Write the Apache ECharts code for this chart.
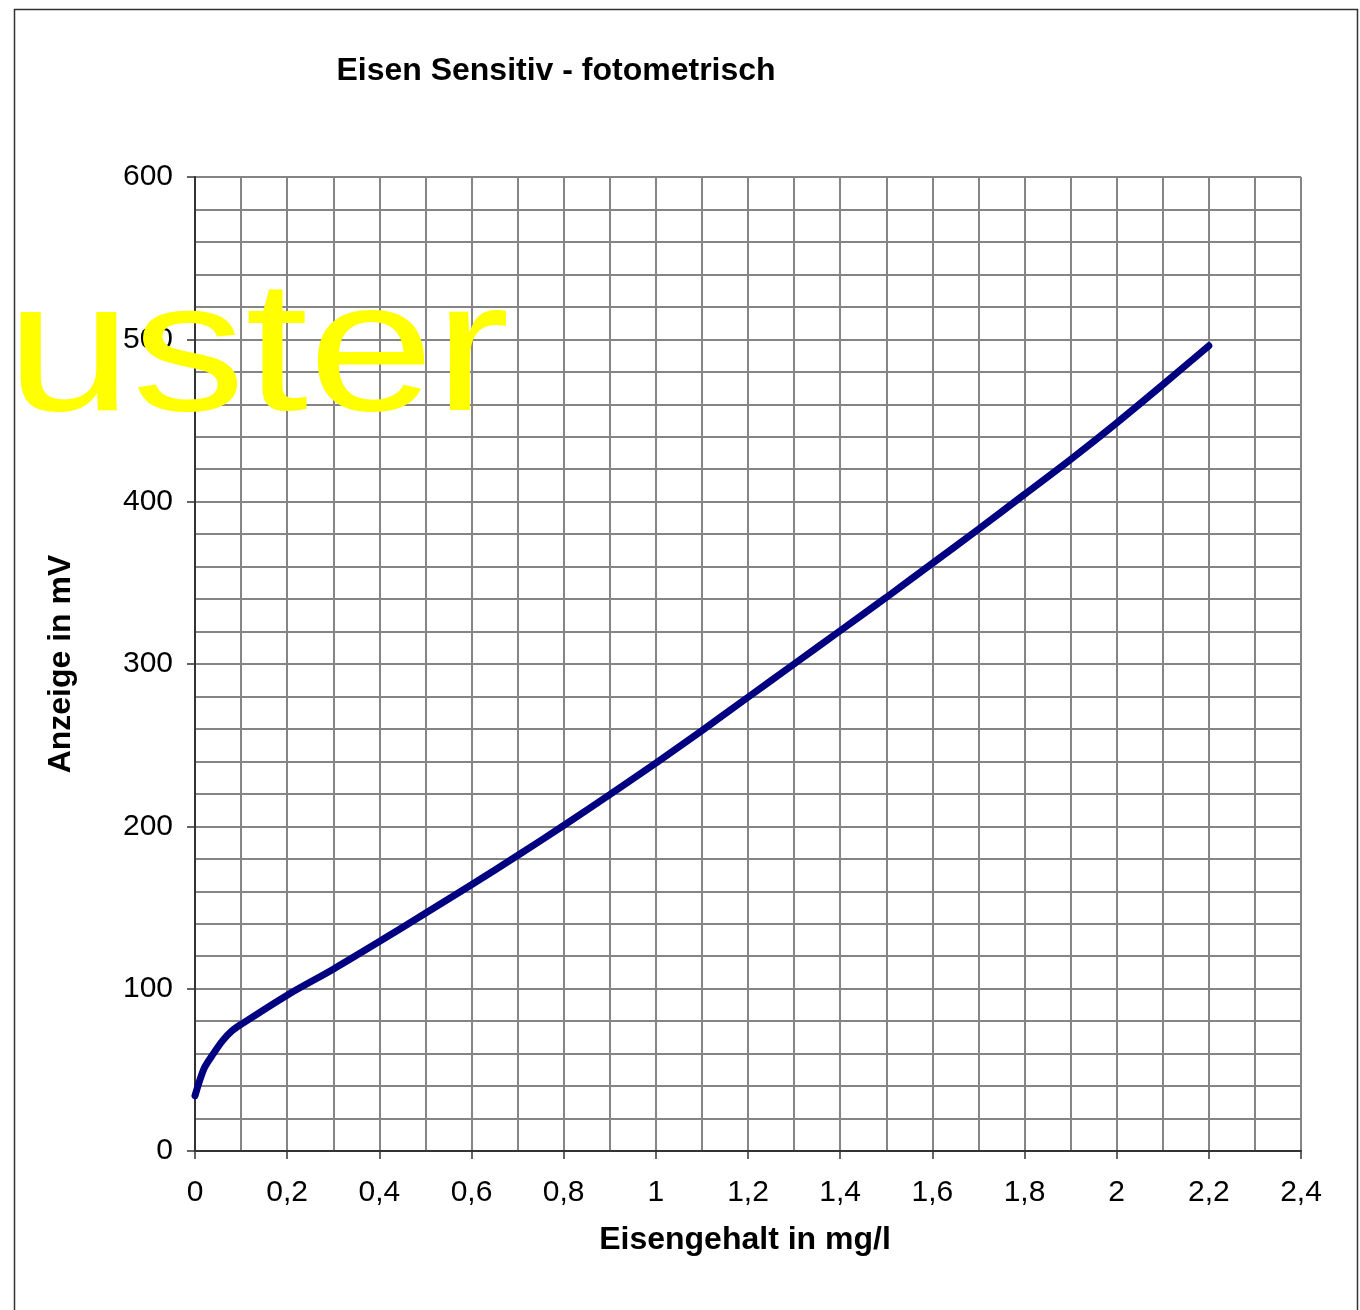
<!DOCTYPE html>
<html>
<head>
<meta charset="utf-8">
<script src="https://cdn.jsdelivr.net/npm/echarts@6/dist/echarts.min.js"></script>
<style>
html,body{margin:0;padding:0;background:#fff;}
#chart{width:1360px;height:1310px;}
</style>
</head>
<body>
<div id="chart"></div>
<script>
// Data
var xValues = [0, 0.02, 0.04, 0.06, 0.08, 0.1, 0.2, 0.3, 0.4, 0.5, 0.6, 0.7, 0.8, 0.9, 1.0, 1.1, 1.2, 1.3, 1.4, 1.5, 1.6, 1.7, 1.8, 1.9, 2.0, 2.1, 2.2];
var yValues = [34, 51, 60, 68, 74, 78, 96, 112, 129, 146.5, 164, 182, 200.5, 219.5, 239, 259, 279.5, 300, 320.5, 341, 362, 383, 404.5, 426, 448.5, 472, 496];
var titleText = 'Eisen Sensitiv - fotometrisch';
var xAxisName = 'Eisengehalt in mg/l';
var yAxisName = 'Anzeige in mV';
var watermark = 'uster';

var seriesData = xValues.map(function (x, i) { return [x, yValues[i]]; });
var FONT = '"Liberation Sans", Arial, sans-serif';

var chart = echarts.init(document.getElementById('chart'), null, {renderer: 'canvas'});
chart.setOption({
  animation: false,
  backgroundColor: '#ffffff',
  title: {
    text: titleText,
    left: 551, top: 50, textAlign: 'center',
    textStyle: {fontFamily: FONT, fontSize: 32, fontWeight: 'bold', color: '#000'}
  },
  grid: {left: 195, right: 59, top: 177, bottom: 159, containLabel: false},
  xAxis: {
    type: 'value', min: 0, max: 2.4, interval: 0.2,
    name: xAxisName, nameLocation: 'middle', nameGap: 73,
    nameTextStyle: {fontFamily: FONT, fontSize: 32, fontWeight: 'bold', color: '#000', padding: [0, 6, 0, 0]},
    axisLine: {show: true, lineStyle: {color: '#333', width: 2}},
    axisTick: {show: true, length: 8, lineStyle: {color: '#333', width: 1.5}},
    axisLabel: {
      margin: 27, fontFamily: FONT, fontSize: 30, color: '#000',
      formatter: function (v) { return String(Math.round(v * 10) / 10).replace('.', ','); }
    },
    splitLine: {show: true, lineStyle: {color: '#858585', width: 2}},
    minorTick: {show: false, splitNumber: 2},
    minorSplitLine: {show: true, lineStyle: {color: '#858585', width: 2}}
  },
  yAxis: {
    type: 'value', min: 0, max: 600, interval: 100,
    name: yAxisName, nameLocation: 'middle', nameGap: 118, nameRotate: 90,
    nameTextStyle: {fontFamily: FONT, fontSize: 32, fontWeight: 'bold', color: '#000'},
    axisLine: {show: true, lineStyle: {color: '#333', width: 2}},
    axisTick: {show: true, length: 8, lineStyle: {color: '#333', width: 1.5}},
    axisLabel: {margin: 22, fontFamily: FONT, fontSize: 30, color: '#000'},
    splitLine: {show: true, lineStyle: {color: '#858585', width: 2}},
    minorTick: {show: false, splitNumber: 5},
    minorSplitLine: {show: true, lineStyle: {color: '#858585', width: 2}}
  },
  series: [{
    type: 'line',
    data: seriesData,
    smooth: 0.3,
    showSymbol: false,
    lineStyle: {color: '#000080', width: 7, cap: 'round'},
    z: 5
  }],
  graphic: [
    {
      type: 'rect', z: 0, silent: true,
      shape: {x: 14.5, y: 9.5, width: 1343, height: 1320},
      style: {fill: 'none', stroke: '#333', lineWidth: 1.5}
    },
    {
      type: 'text', z: 100, silent: true,
      x: 6, y: 452, scaleX: 1.18, scaleY: 0.97,
      style: {
        text: watermark, fill: '#ffff00',
        font: 'normal 192px ' + FONT,
        verticalAlign: 'bottom', align: 'left'
      }
    }
  ]
});
</script>
</body>
</html>
